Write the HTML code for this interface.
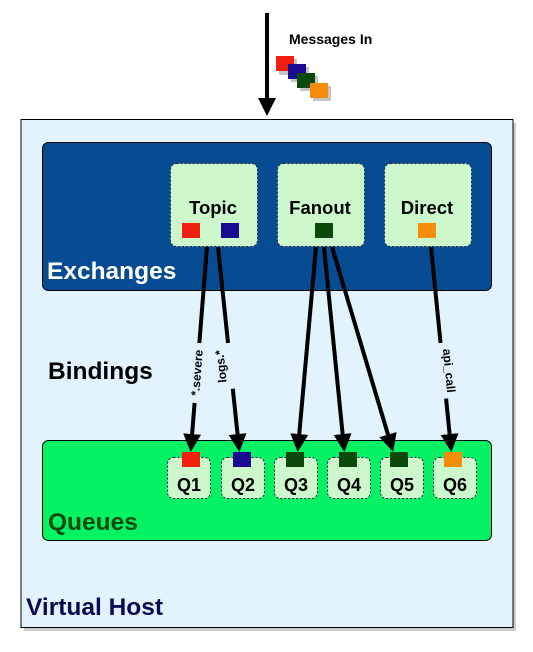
<!DOCTYPE html>
<html><head><meta charset="utf-8"><style>
html,body{margin:0;padding:0;background:#fff;}
svg{display:block;font-family:"Liberation Sans",Arial,sans-serif;font-weight:bold;}
</style></head><body>
<svg width="533" height="652" viewBox="0 0 533 652" xmlns="http://www.w3.org/2000/svg">
<defs>
<marker id="ah" markerWidth="4.5" markerHeight="4.5" refX="3.5" refY="2.25" orient="auto" markerUnits="strokeWidth">
<path d="M0,0 L4.5,2.25 L0,4.5 Z" fill="#000"/></marker>
</defs>
<rect x="24" y="123" width="492" height="508" fill="#999" opacity="0.5"/>
<rect x="21" y="119.5" width="492" height="508" fill="#e2f3fd" stroke="#000" stroke-width="1"/>
<rect x="42.5" y="142.5" width="449" height="148" rx="6" fill="#074c92" stroke="#000" stroke-width="1"/>
<g fill="#ccf8cc" stroke="#224" stroke-width="1" stroke-dasharray="2,2">
<rect x="170.5" y="163.5" width="87" height="83" rx="6"/>
<rect x="277.5" y="163.5" width="87" height="83" rx="6"/>
<rect x="384.5" y="163.5" width="87" height="83" rx="6"/>
</g>
<g font-size="18.5" fill="#000" text-anchor="middle">
<text x="213" y="214">Topic</text>
<text x="320" y="214">Fanout</text>
<text x="427" y="214">Direct</text>
</g>
<rect x="182" y="223" width="18" height="15" fill="#f02010"/>
<rect x="221" y="223" width="18" height="15" fill="#1a0a90"/>
<rect x="315" y="223" width="18" height="15" fill="#0b4a0b"/>
<rect x="418" y="223" width="18" height="15" fill="#f58c0a"/>
<text x="47" y="279" font-size="24.5" fill="#fff">Exchanges</text>
<rect x="42.5" y="440.5" width="449" height="100" rx="6" fill="#05f265" stroke="#000" stroke-width="1"/>
<g fill="#ccf8cc" stroke="#224" stroke-width="1" stroke-dasharray="2,2">
<rect x="167.5" y="457.5" width="43" height="41" rx="6"/>
<rect x="221.5" y="457.5" width="43" height="41" rx="6"/>
<rect x="274.5" y="457.5" width="43" height="41" rx="6"/>
<rect x="327.5" y="457.5" width="43" height="41" rx="6"/>
<rect x="380.5" y="457.5" width="43" height="41" rx="6"/>
<rect x="433.5" y="457.5" width="43" height="41" rx="6"/>
</g>
<rect x="182" y="452" width="18" height="15" fill="#f02010"/>
<rect x="233" y="452" width="18" height="15" fill="#1a0a90"/>
<rect x="286" y="452" width="18" height="15" fill="#0b4a0b"/>
<rect x="339" y="452" width="18" height="15" fill="#0b4a0b"/>
<rect x="390" y="452" width="18" height="15" fill="#0b4a0b"/>
<rect x="444" y="452" width="18" height="15" fill="#f58c0a"/>
<g font-size="18" fill="#000" text-anchor="middle">
<text x="189" y="491">Q1</text>
<text x="243" y="491">Q2</text>
<text x="296" y="491">Q3</text>
<text x="349" y="491">Q4</text>
<text x="402" y="491">Q5</text>
<text x="455" y="491">Q6</text>
</g>
<text x="48" y="530" font-size="24.5" fill="#0a4a0a">Queues</text>
<text x="48" y="379" font-size="24.5" fill="#000">Bindings</text>
<text x="26" y="615" font-size="24.5" fill="#0a0a50">Virtual Host</text>
<g stroke="#000" stroke-width="4" fill="none" marker-end="url(#ah)">
<line x1="267" y1="13" x2="267" y2="112"/>
<line x1="207" y1="247" x2="191" y2="448"/>
<line x1="218" y1="247" x2="239" y2="448"/>
<line x1="316" y1="247" x2="298" y2="448"/>
<line x1="324" y1="247" x2="344" y2="448"/>
<line x1="332" y1="247" x2="392" y2="448"/>
<line x1="431" y1="247" x2="451" y2="448"/>
</g>
<rect x="190" y="343" width="14" height="60" fill="#e2f3fd" transform="rotate(4.5 197 373)"/>
<rect x="222" y="343" width="14" height="46" fill="#e2f3fd" transform="rotate(-5.8 229 366)"/>
<rect x="434" y="343" width="14" height="56" fill="#e2f3fd" transform="rotate(-5.6 441 371)"/>
<g font-size="12" fill="#000" text-anchor="middle">
<text transform="translate(201 373) rotate(-85.5)">*.severe</text>
<text transform="translate(225 366) rotate(-95.9)">logs.*</text>
<text transform="translate(445 371) rotate(84.4)">api_call</text>
</g>
<text x="289" y="44" font-size="14" fill="#000">Messages In</text>
<g>
<rect x="279" y="59" width="18" height="16" fill="#555" opacity="0.35"/>
<rect x="276" y="56" width="18" height="15" fill="#f02010"/>
<rect x="291" y="67" width="18" height="15" fill="#555" opacity="0.35"/>
<rect x="288" y="64" width="18" height="15" fill="#1a0a90"/>
<rect x="300" y="76" width="18" height="15" fill="#555" opacity="0.35"/>
<rect x="297" y="73" width="18" height="15" fill="#0b4a0b"/>
<rect x="313" y="86" width="18" height="15" fill="#555" opacity="0.35"/>
<rect x="310" y="83" width="18" height="15" fill="#f58c0a"/>
</g>
</svg>
</body></html>
